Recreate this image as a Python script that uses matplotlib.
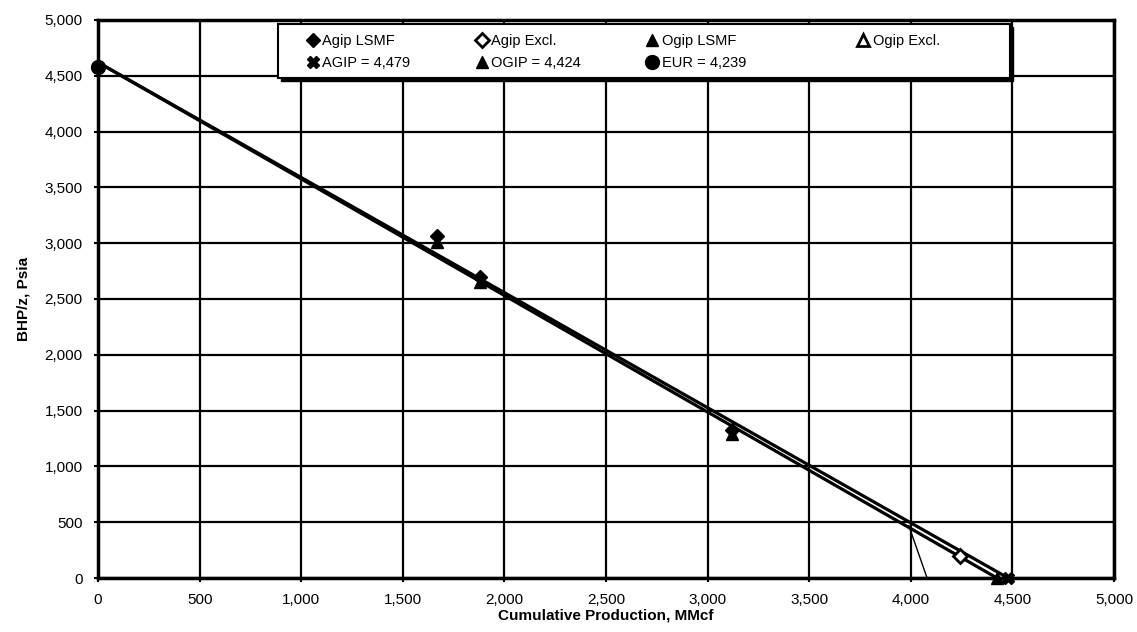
import matplotlib.pyplot as plt
from matplotlib.patches import Rectangle
from matplotlib.ticker import FuncFormatter, MultipleLocator

plt.rcParams["font.family"] = ["Liberation Sans", "DejaVu Sans"]

# measured points
agip_lsmf_x = [1670, 1880, 3120]
agip_lsmf_y = [3060, 2700, 1330]
ogip_lsmf_x = [1670, 1880, 3120]
ogip_lsmf_y = [3010, 2650, 1290]
agip_excl_x = [4240]
agip_excl_y = [200]

# extrapolations / estimates
agip_x = [4479]
agip_y = [0]
ogip_x = [4424]
ogip_y = [0]
eur_x = [0]
eur_y = [4580]

# straight-line fits
agip_line_x = [0, 4479]
agip_line_y = [4620, 0]
ogip_line_x = [0, 4424]
ogip_line_y = [4620, 0]
eur_line_x = [3990, 4080, 4130]
eur_line_y = [470, 0, 0]

fig = plt.figure(figsize=(11.37, 6.32), dpi=100)
ax = fig.add_axes([0.0862, 0.0854, 0.8936, 0.8830])

ax.plot(agip_line_x, agip_line_y, color="black", lw=2.3, zorder=3)
ax.plot(ogip_line_x, ogip_line_y, color="black", lw=2.3, zorder=3)
ax.plot(eur_line_x, eur_line_y, color="black", lw=1.0, zorder=3)

ms = 9
ax.plot(agip_lsmf_x, agip_lsmf_y, ls="none", marker="D", ms=7.5, color="black",
        label="Agip LSMF", zorder=4)
ax.plot(agip_x, agip_y, ls="none", marker="X", ms=ms, color="black",
        label="AGIP = 4,479", zorder=4, clip_on=False)
ax.plot(agip_excl_x, agip_excl_y, ls="none", marker="D", ms=7.5, mfc="white",
        mec="black", mew=2, label="Agip Excl.", zorder=5)
ax.plot(ogip_x, ogip_y, ls="none", marker="^", ms=ms, color="black",
        label="OGIP = 4,424", zorder=4, clip_on=False)
ax.plot(ogip_lsmf_x, ogip_lsmf_y, ls="none", marker="^", ms=ms, color="black",
        label="Ogip LSMF", zorder=4)
ax.plot(eur_x, eur_y, ls="none", marker="o", ms=10, color="black",
        label="EUR = 4,239", zorder=4, clip_on=False)
ax.plot([], [], ls="none", marker="^", ms=ms, mfc="white", mec="black",
        mew=2, label="Ogip Excl.")

ax.set_xlim(0, 5000)
ax.set_ylim(0, 5000)
ax.xaxis.set_major_locator(MultipleLocator(500))
ax.yaxis.set_major_locator(MultipleLocator(500))
fmt = FuncFormatter(lambda v, p: f"{v:,.0f}")
ax.xaxis.set_major_formatter(fmt)
ax.yaxis.set_major_formatter(fmt)
ax.grid(True, color="black", lw=1.6)
ax.set_axisbelow(True)
for s in ax.spines.values():
    s.set_linewidth(2.5)
ax.tick_params(labelsize=11, width=1.5, length=3, pad=8)

ax.set_xlabel("Cumulative Production, MMcf", fontsize=11, fontweight="bold",
              labelpad=1)
ax.set_ylabel("BHP/z, Psia", fontsize=11, fontweight="bold", labelpad=10)

# legend box with shadow, as in the spreadsheet chart
box = dict(transform=ax.transAxes, clip_on=False)
ax.add_patch(Rectangle((0.180, 0.891), 0.721, 0.097, facecolor="black",
                       edgecolor="black", zorder=6, **box))
ax.add_patch(Rectangle((0.177, 0.896), 0.721, 0.097, facecolor="white",
                       edgecolor="black", lw=1.5, zorder=7, **box))

handles, labels = ax.get_legend_handles_labels()
opts = dict(loc="upper left", fontsize=10.5, frameon=False, handlelength=0.6,
            handletextpad=0.35, borderaxespad=0, borderpad=0,
            labelspacing=0.55)
leg1 = ax.legend(handles[:6], labels[:6], bbox_to_anchor=(0.207, 0.975),
                 ncol=3, columnspacing=4.6, **opts)
leg1.set_zorder(8)
ax.add_artist(leg1)
leg2 = ax.legend(handles[6:], labels[6:], bbox_to_anchor=(0.749, 0.975),
                 ncol=1, **opts)
leg2.set_zorder(8)

fig.savefig("out.png", dpi=100)
